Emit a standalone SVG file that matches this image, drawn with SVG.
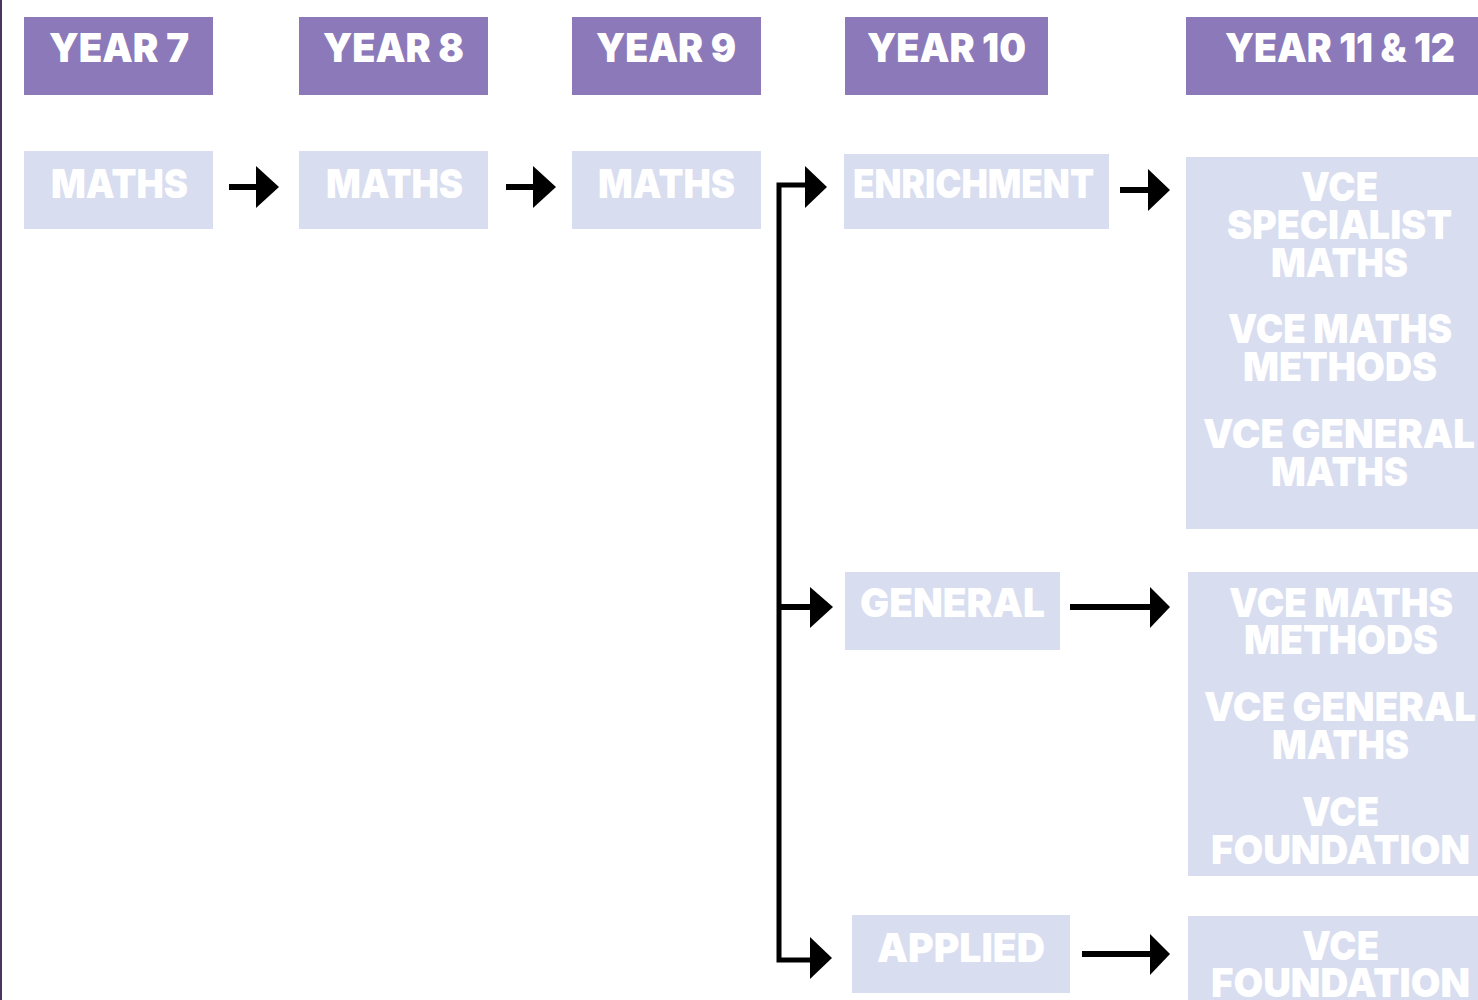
<svg xmlns="http://www.w3.org/2000/svg" width="1478" height="1000" viewBox="0 0 1478 1000">
<style>
.hd{fill:#8c79b9}
.bx{fill:#d8ddf0}
.t{font-family:Inter,"Open Sans","Liberation Sans",sans-serif;font-weight:900;font-size:40px;fill:#ffffff}
.ln{stroke:#000;stroke-width:6;fill:none}
.vl{stroke:#000;stroke-width:5;fill:none}
.hdarr{fill:#000}
</style>
<rect width="1478" height="1000" fill="#ffffff"/>
<rect x="0" y="0" width="2" height="1000" fill="#4a3560"/>

<g id="year7"><rect class="hd" x="24" y="17" width="189" height="78"/><text class="t" x="49" y="62" textLength="140" lengthAdjust="spacingAndGlyphs">YEAR 7</text></g>
<g id="year8"><rect class="hd" x="299" y="17" width="189" height="78"/><text class="t" x="323" y="62" textLength="141" lengthAdjust="spacingAndGlyphs">YEAR 8</text></g>
<g id="year9"><rect class="hd" x="572" y="17" width="189" height="78"/><text class="t" x="596" y="62" textLength="140" lengthAdjust="spacingAndGlyphs">YEAR 9</text></g>
<g id="year10"><rect class="hd" x="845" y="17" width="203" height="78"/><text class="t" x="867" y="62" textLength="159" lengthAdjust="spacingAndGlyphs">YEAR 10</text></g>
<g id="year1112"><rect class="hd" x="1186" y="17" width="292" height="78"/><text class="t" x="1225" y="62" textLength="230" lengthAdjust="spacingAndGlyphs">YEAR 11 &amp; 12</text></g>

<g id="maths7"><rect class="bx" x="24" y="151" width="189" height="78"/><text class="t" x="51" y="198" textLength="137" lengthAdjust="spacingAndGlyphs">MATHS</text></g>
<g id="maths8"><rect class="bx" x="299" y="151" width="189" height="78"/><text class="t" x="326" y="198" textLength="137" lengthAdjust="spacingAndGlyphs">MATHS</text></g>
<g id="maths9"><rect class="bx" x="572" y="151" width="189" height="78"/><text class="t" x="598" y="198" textLength="137" lengthAdjust="spacingAndGlyphs">MATHS</text></g>

<g id="enrichment"><rect class="bx" x="844" y="154" width="265" height="75"/><text class="t" x="853" y="198" textLength="241" lengthAdjust="spacingAndGlyphs">ENRICHMENT</text></g>
<g id="general"><rect class="bx" x="845" y="572" width="215" height="78"/><text class="t" x="860" y="617" textLength="185" lengthAdjust="spacingAndGlyphs">GENERAL</text></g>
<g id="applied"><rect class="bx" x="852" y="915" width="218" height="78"/><text class="t" x="877" y="962" textLength="168" lengthAdjust="spacingAndGlyphs">APPLIED</text></g>

<g id="vce-enrichment"><rect class="bx" x="1186" y="157" width="292" height="372"/>
<text class="t" x="1301" y="201" textLength="77" lengthAdjust="spacingAndGlyphs">VCE</text>
<text class="t" x="1227" y="239" textLength="225" lengthAdjust="spacingAndGlyphs">SPECIALIST</text>
<text class="t" x="1271" y="277" textLength="137" lengthAdjust="spacingAndGlyphs">MATHS</text>
<text class="t" x="1228" y="343" textLength="224" lengthAdjust="spacingAndGlyphs">VCE MATHS</text>
<text class="t" x="1243" y="381" textLength="194" lengthAdjust="spacingAndGlyphs">METHODS</text>
<text class="t" x="1203" y="448" textLength="272" lengthAdjust="spacingAndGlyphs">VCE GENERAL</text>
<text class="t" x="1271" y="486" textLength="137" lengthAdjust="spacingAndGlyphs">MATHS</text>
</g>
<g id="vce-general"><rect class="bx" x="1188" y="572" width="290" height="304"/>
<text class="t" x="1229" y="617" textLength="224" lengthAdjust="spacingAndGlyphs">VCE MATHS</text>
<text class="t" x="1244" y="654" textLength="194" lengthAdjust="spacingAndGlyphs">METHODS</text>
<text class="t" x="1204" y="721" textLength="272" lengthAdjust="spacingAndGlyphs">VCE GENERAL</text>
<text class="t" x="1272" y="759" textLength="137" lengthAdjust="spacingAndGlyphs">MATHS</text>
<text class="t" x="1302" y="826" textLength="77" lengthAdjust="spacingAndGlyphs">VCE</text>
<text class="t" x="1211" y="864" textLength="259" lengthAdjust="spacingAndGlyphs">FOUNDATION</text>
</g>
<g id="vce-applied"><rect class="bx" x="1188" y="916" width="290" height="84"/>
<text class="t" x="1302" y="960" textLength="77" lengthAdjust="spacingAndGlyphs">VCE</text>
<text class="t" x="1211" y="997" textLength="259" lengthAdjust="spacingAndGlyphs">FOUNDATION</text>
</g>

<g id="connectors">
<line class="ln" x1="229" y1="187" x2="258" y2="187"/><polygon class="hdarr" points="256,166 279,187 256,208"/>
<line class="ln" x1="506" y1="187" x2="535" y2="187"/><polygon class="hdarr" points="533,166 556,187 533,208"/>
<polyline class="vl" points="808,185 779,185 779,960 810,960"/>
<polygon class="hdarr" points="805,166 827,187 805,208"/>
<line class="ln" x1="779" y1="607" x2="812" y2="607"/><polygon class="hdarr" points="810,587 833,607 810,628"/>
<polygon class="hdarr" points="810,937 832,958 810,979"/>
<line class="ln" x1="1120" y1="190" x2="1150" y2="190"/><polygon class="hdarr" points="1148,169 1170,190 1148,211"/>
<line class="ln" x1="1070" y1="607" x2="1152" y2="607"/><polygon class="hdarr" points="1150,587 1170,607 1150,628"/>
<line class="ln" x1="1082" y1="954" x2="1152" y2="954"/><polygon class="hdarr" points="1150,934 1170,954 1150,975"/>
</g>
</svg>
